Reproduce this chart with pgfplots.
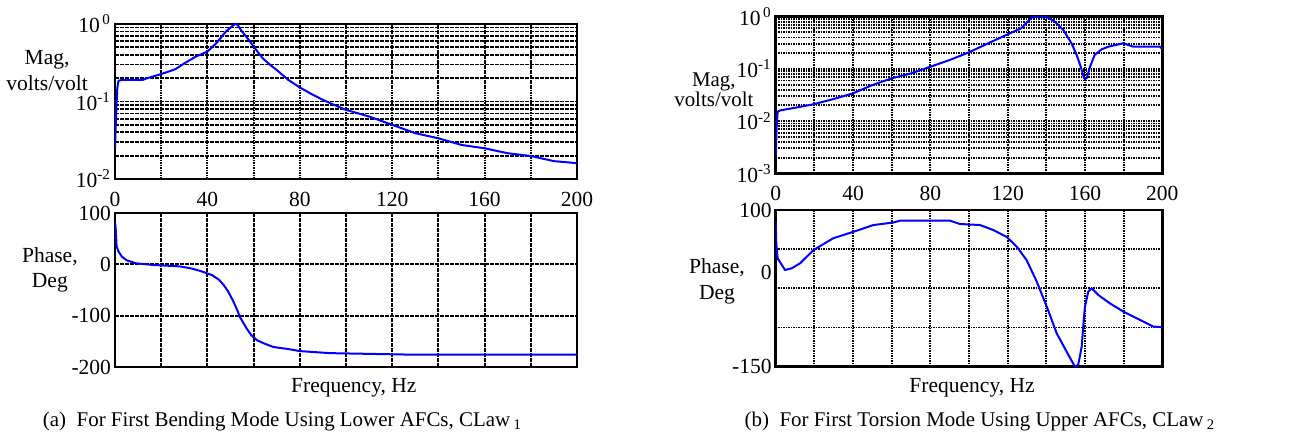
\documentclass[border=0pt]{standalone}
\usepackage{pgfplots}
\pgfplotsset{compat=1.18}
\usepackage{fontspec}
\setmainfont{Liberation Serif}

\pgfplotsset{
  bode/.style={
    scale only axis,
    xmin=0, xmax=200,
    axis line style={line width=1.3bp},
    grid style={black, line width=0.95bp, dash pattern=on 0.8bp off 0.45bp},
    minor grid style={black, line width=0.95bp, dash pattern=on 0.8bp off 0.45bp},
    major tick length=0pt, minor tick length=0pt,
    tick label style={font=\fontsize{10.8}{12}\selectfont},
    xticklabel style={yshift=-3bp},
    yticklabel style={xshift=1.5bp},
    label style={font=\fontsize{10.8}{12.8}\selectfont, align=center},
    ylabel style={rotate=-90, anchor=center},
    /pgf/number format/assume math mode=true,
    xtick={0,40,...,200}, minor xtick={20,60,...,180},
    xmajorgrids, xminorgrids,
  },
  resp/.style={blue, line width=1bp, line join=round},
}

\begin{document}
\begin{tikzpicture}
\path[use as bounding box] (0,0) rectangle (648bp,220.5bp);

% ---------------- (a) first bending mode: magnitude
\begin{axis}[bode,
  at={(57.5bp,131bp)}, anchor=south west, width=231bp, height=77.5bp,
  ymode=log, ymin=1e-2, ymax=1,
  ytick={0.01,0.1,1},
  yticklabels={10\textsuperscript{-2},10\textsuperscript{-1},10\textsuperscript{\,0}},
  minor ytick={0.02,0.03,0.04,0.05,0.06,0.07,0.08,0.09,0.2,0.3,0.4,0.5,0.6,0.7,0.8,0.9},
  ymajorgrids, yminorgrids,
  ylabel={Mag,\\volts/volt},
  ylabel style={at={(axis description cs:-0.147,0.70)}},
]
\addplot[resp] coordinates {
 (0,0.025) (0.5,0.07) (1,0.15) (1.5,0.185) (3,0.19) (12,0.19) (14,0.2)
 (20,0.226) (26,0.26) (30,0.31) (35,0.38) (40,0.44) (44,0.57) (48,0.80)
 (51,0.95) (52,1.0) (53,0.98) (55,0.80) (58,0.62) (60,0.51) (64,0.36)
 (67,0.30) (70,0.255) (75,0.19) (80,0.152) (85,0.125) (90,0.105) (95,0.09)
 (100,0.078) (110,0.064) (120,0.050) (130,0.039) (140,0.0335) (150,0.0275)
 (160,0.0249) (170,0.0215) (180,0.0198) (190,0.017) (200,0.016)
};
\end{axis}

% ---------------- (a) first bending mode: phase
\begin{axis}[bode,
  at={(57.5bp,37bp)}, anchor=south west, width=231bp, height=77bp,
  ymin=-200, ymax=100,
  ytick={-200,-100,0,100}, yticklabels={-200,-100,0,100},
  xticklabels={},
  ymajorgrids,
  ylabel={Phase,\\Deg},
  ylabel style={at={(axis description cs:-0.141,0.63)}},
  xlabel={Frequency, Hz},
  xlabel style={at={(axis description cs:0.517,0)}, anchor=center, yshift=-10.5bp},
]
\addplot[resp] coordinates {
 (0,83) (0.3,70) (0.7,35) (1.5,25) (3,15) (5,8) (9,2) (16,-1) (28,-4)
 (33,-8) (37,-13) (42,-21) (45,-30) (47,-40) (49,-53) (51,-70) (53,-90)
 (54,-102) (57,-125) (59,-138) (61.5,-148) (65,-155) (68.5,-161) (75,-165)
 (80,-169) (93,-173) (129,-176) (200,-176)
};
\end{axis}

% ---------------- (b) first torsion mode: magnitude
\begin{axis}[bode,
  at={(387.85bp,133.85bp)}, anchor=south west, width=193.3bp, height=78.3bp,
  ymode=log, ymin=1e-3, ymax=1,
  ytick={0.001,0.01,0.1,1},
  yticklabels={10\textsuperscript{-3},10\textsuperscript{-2},10\textsuperscript{-1},10\textsuperscript{\,0}},
  minor ytick={0.002,0.003,0.004,0.005,0.006,0.007,0.008,0.009,
               0.02,0.03,0.04,0.05,0.06,0.07,0.08,0.09,0.2,0.3,0.4,0.5,0.6,0.7,0.8,0.9},
  ymajorgrids, yminorgrids,
  ylabel={Mag,\\volts/volt},
  ylabel style={at={(axis description cs:-0.16,0.535)},
                font=\fontsize{10.5}{10}\selectfont},
]
\addplot[resp] coordinates {
 (0,0.0021) (0.5,0.0078) (1,0.015) (2.2,0.016) (10,0.018) (19.5,0.021)
 (30,0.0265) (40,0.034) (50,0.049) (60,0.066) (70,0.082) (80,0.11)
 (90,0.148) (100,0.208) (110,0.31) (120,0.46) (127,0.60) (132.4,0.96)
 (134,1.0) (140,1.0) (144.5,0.80) (148.8,0.556) (153,0.31) (155.7,0.185)
 (157.8,0.11) (159.5,0.066) (160.9,0.066) (162.6,0.11) (165,0.185)
 (168.6,0.237) (172,0.266) (179.8,0.31) (185,0.266) (198.8,0.266) (200,0.24)
};
\end{axis}

% ---------------- (b) first torsion mode: phase
\begin{axis}[bode,
  at={(387.85bp,37.15bp)}, anchor=south west, width=193.3bp, height=78.35bp,
  ymin=-150, ymax=100,
  ytick={-150,0,100}, yticklabels={-150,0,100},
  minor ytick={-87.5,-25,37.5},
  yminorgrids,
  xticklabels={},
  ylabel={Phase,\\Deg},
  ylabel style={at={(axis description cs:-0.152,0.544)}},
  xlabel={Frequency, Hz},
  xlabel style={at={(axis description cs:0.508,0)}, anchor=center, yshift=-10.5bp},
]
\addplot[resp] coordinates {
 (0,81) (0.3,47) (1,23) (4.8,4.3) (8.3,7) (12.6,15) (19.5,36) (29.8,55)
 (40,65) (50.5,76) (60.8,80) (64.3,83) (90.2,83) (95.3,77.7) (105.7,76)
 (112.6,68) (119.5,57) (124.7,41.5) (129.8,20) (135,-14) (140.2,-54)
 (145.4,-97) (150.5,-126) (154.8,-150) (156.5,-147) (158.3,-118)
 (159.5,-70) (160,-54) (161.7,-30) (163.5,-25) (166.9,-35.6) (172.9,-49)
 (179.8,-62) (188.5,-75.5) (195.4,-86) (200,-87)
};
\end{axis}

% sub-figure captions
\node[font=\fontsize{10.5}{12}\selectfont] at (141.25bp,10bp)
  {(a)\ \ For First Bending Mode Using Lower AFCs, CLaw\,\textsubscript{1}};
\node[font=\fontsize{10.5}{12}\selectfont] at (490bp,10bp)
  {(b)\ \ For First Torsion Mode Using Upper AFCs, CLaw\,\textsubscript{2}};
\end{tikzpicture}
\end{document}
